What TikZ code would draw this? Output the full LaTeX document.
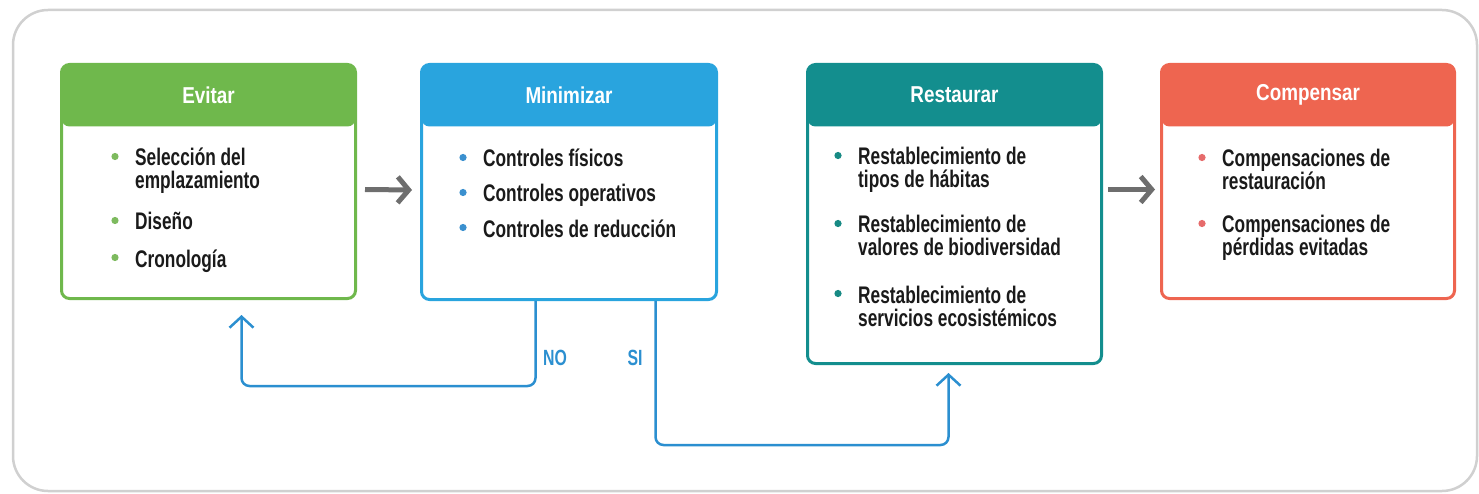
\documentclass[tikz,border=0pt]{standalone}
\usepackage{fontspec}
\setmainfont{Liberation Sans}[FakeStretch=0.72]
\newfontfamily\headfont{Liberation Sans}[FakeStretch=0.82]
\usetikzlibrary{arrows.meta}
\definecolor{cgreen}{HTML}{6FB84C}
\definecolor{cblue}{HTML}{29A4DE}
\definecolor{cteal}{HTML}{138E8E}
\definecolor{cred}{HTML}{EE6550}
\definecolor{bgreen}{HTML}{7DBA5E}
\definecolor{bblue}{HTML}{3B90CF}
\definecolor{bteal}{HTML}{178A84}
\definecolor{bred}{HTML}{E66B6B}
\definecolor{cgray}{HTML}{6E6E6E}
\definecolor{cline}{HTML}{2B8FD0}
\definecolor{cframe}{HTML}{D0D0D0}
\definecolor{ctext}{HTML}{1A1A1A}
\begin{document}
\begin{tikzpicture}[x=1pt,y=-1pt,
  stagebox/.style={draw=#1, line width=3pt, rounded corners=8pt, fill=white,
    anchor=north west, inner sep=0pt,
    path picture={\fill[#1] (path picture bounding box.north west) rectangle
      ([yshift=-62pt]path picture bounding box.north east);}},
  headtxt/.style={text=white, font=\headfont\bfseries\fontsize{23}{24}\selectfont, inner sep=0pt},
  itemtxt/.style={text=ctext, font=\bfseries\fontsize{24}{23}\selectfont, inner sep=0pt, anchor=base west},
  grayarrow/.style={draw=cgray, line width=5pt, -{Straight Barb[length=11pt,width=26pt]}},
  bluearrow/.style={draw=cline, line width=2.5pt, rounded corners=8pt, -{Straight Barb[length=11pt,width=24pt]}},
  lbl/.style={text=cline, font=\bfseries\fontsize{22}{22}\selectfont, inner sep=0pt}
]
\useasboundingbox (0,0) rectangle (1479,494);
\draw[cframe, line width=2.5pt, rounded corners=35pt] (13,10) rectangle (1477,491);

% stage boxes
\node[stagebox=cgreen, minimum width=294pt, minimum height=234pt] (ev) at (60,63) {};
\node[stagebox=cblue, minimum width=295pt, minimum height=235pt] (mi) at (420,63) {};
\node[stagebox=cteal, minimum width=294pt, minimum height=299pt] (re) at (806,63) {};
\node[stagebox=cred, minimum width=293pt, minimum height=234pt] (co) at (1160,63) {};

% titles
\node[headtxt] (evt) at ([yshift=-32pt]ev.north) {Evitar};
\node[headtxt] (mit) at ([yshift=-32pt]mi.north) {Minimizar};
\node[headtxt] (ret) at ([yshift=-32pt]re.north) {Restaurar};
\node[headtxt] (cot) at ([yshift=-32pt]co.north) {Compensar};

% items
\newcommand\stageitem[5]{%
  \node[itemtxt] (#1) at (#2,#3) {\parbox[t]{230pt}{\raggedright\fontsize{24}{#5}\selectfont #4}};
  \fill[#1col] ([xshift=-20pt,yshift=9.5pt]#1.base west) circle (3.6pt);}
\colorlet{e1col}{bgreen}\colorlet{e2col}{bgreen}\colorlet{e3col}{bgreen}
\colorlet{m1col}{bblue}\colorlet{m2col}{bblue}\colorlet{m3col}{bblue}
\colorlet{r1col}{bteal}\colorlet{r2col}{bteal}\colorlet{r3col}{bteal}
\colorlet{c1col}{bred}\colorlet{c2col}{bred}
\stageitem{e1}{135}{166}{Selección del\\emplazamiento}{23}
\stageitem{e2}{135}{230}{Diseño}{23}
\stageitem{e3}{135}{267}{Cronología}{23}
\stageitem{m1}{483}{167}{Controles físicos}{23}
\stageitem{m2}{483}{202}{Controles operativos}{23}
\stageitem{m3}{483}{237}{Controles de reducción}{23}
\stageitem{r1}{858}{165}{Restablecimiento de\\tipos de hábitas}{23}
\stageitem{r2}{858}{233}{Restablecimiento de\\valores de biodiversidad}{23}
\stageitem{r3}{858}{303}{Restablecimiento de\\servicios ecosistémicos}{23}
\stageitem{c1}{1222}{167}{Compensaciones de\\restauración}{23}
\stageitem{c2}{1222}{233}{Compensaciones de\\pérdidas evitadas}{23}

% gray arrows
\draw[grayarrow] ([xshift=8pt,yshift=-8pt]ev.east) -- ([xshift=-8pt,yshift=-8pt]mi.west);
\draw[grayarrow] ([xshift=5pt,yshift=-8pt]co.west -| re.east) -- ([xshift=-5pt,yshift=-8pt]co.west);

% blue feedback connectors
\draw[bluearrow] ([xshift=-33.5pt]mi.south) -- ++(0,85) -| ([xshift=33pt,yshift=-15pt]ev.south);
\draw[bluearrow] ([xshift=86.5pt]mi.south) -- ++(0,144) -| ([xshift=-6pt,yshift=-8pt]re.south);

\node[lbl] (no) at (555,358) {NO};
\node[lbl] (si) at (635,358) {SI};
\end{tikzpicture}
\end{document}
